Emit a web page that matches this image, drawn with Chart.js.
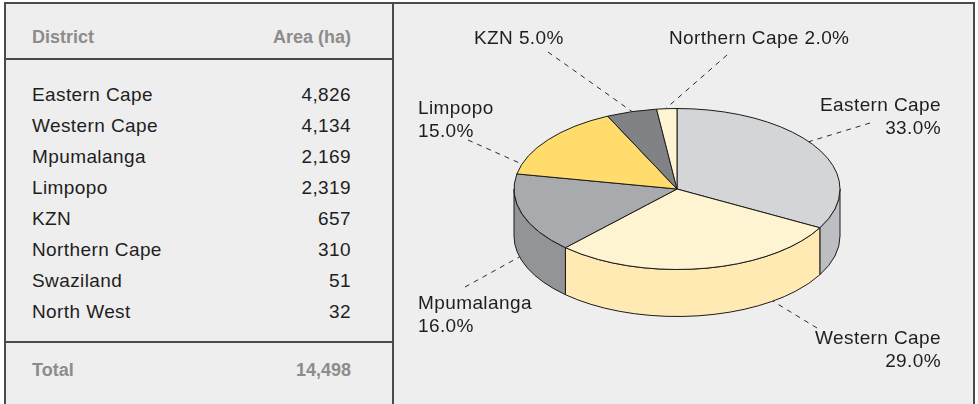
<!DOCTYPE html>
<html>
<head>
<meta charset="utf-8">
<script src="https://cdn.jsdelivr.net/npm/chart.js@4.4.1/dist/chart.umd.min.js"></script>
<style>
  html, body { margin: 0; padding: 0; background: #ffffff; }
  body { width: 978px; height: 404px; position: relative; overflow: hidden;
         font-family: "Liberation Sans", Arial, sans-serif; color: #1e1e1e; }
  #box { position: absolute; left: 4px; top: 2px; width: 967px; height: 410px;
         background: #eeeeee; border: 2px solid #4a4a4a; border-bottom: none; }
  .vline { position: absolute; left: 386px; top: 0; width: 2px; height: 410px; background: #4a4a4a; }
  .hline { position: absolute; left: 0; width: 386px; height: 2px; background: #4a4a4a; }
  .cell { position: absolute; height: 31px; line-height: 31px; font-size: 19px; white-space: nowrap; letter-spacing: 0.4px; }
  .name { left: 26px; }
  .val { right: 622px; text-align: right; }
  .head { font-weight: bold; font-size: 18px; color: #8c8c8c; letter-spacing: 0; }
  #chartWrap { position: absolute; left: 388px; top: 0; width: 579px; height: 402px; }
</style>
</head>
<body>
<div id="box">
  <div class="hline" style="top:54px"></div>
  <div class="hline" style="top:337px"></div>
  <div class="vline"></div>
  <div id="table"></div>
  <div id="chartWrap"><canvas id="pie"></canvas></div>
</div>
<script>
// table data
const districts = ['Eastern Cape', 'Western Cape', 'Mpumalanga', 'Limpopo', 'KZN', 'Northern Cape', 'Swaziland', 'North West'];
const areas = [4826, 4134, 2169, 2319, 657, 310, 51, 32];
const totalArea = 14498;

// pie data (percent as printed on the chart)
const pieLabels = ['Eastern Cape', 'Western Cape', 'Mpumalanga', 'Limpopo', 'KZN', 'Northern Cape'];
const piePercents = [33.0, 29.0, 16.0, 15.0, 5.0, 2.0];
const topColors = ['#d4d5d7', '#fff4d2', '#a9aaae', '#ffdc6b', '#808285', '#fff4d2'];
const sideColors = ['#bdbec1', '#ffeab4', '#939498', '#f2c94c', '#6c6e71', '#ffeab4'];

const fmt = n => n.toLocaleString('en-US');

function cell(cls, text, top) {
  const d = document.createElement('div');
  d.className = 'cell ' + cls;
  d.style.top = top + 'px';
  d.textContent = text;
  document.getElementById('table').appendChild(d);
}

cell('name head', 'District', 18);
cell('val head', 'Area (ha)', 18);
districts.forEach((d, i) => {
  cell('name', d, 75 + i * 31);
  cell('val', fmt(areas[i]), 75 + i * 31);
});
cell('name head', 'Total', 351);
cell('val head', fmt(totalArea), 351);

// label layout: text anchor, start of leader, and angle where it meets the pie
const labelLayout = [
  { x: 547, y: 102, align: 'right', lines: 2, lx: 476, ly: 119, edge: -36 },
  { x: 547, y: 335, align: 'right', lines: 2, lx: 423, ly: 324, edge: 54 },
  { x: 24, y: 300, align: 'left', lines: 2, lx: 71, ly: 283, edge: 165 },
  { x: 24, y: 105, align: 'left', lines: 2, lx: 74, ly: 136, edge: 198 },
  { x: 80, y: 35, align: 'left', lines: 1, lx: 154, ly: 48, edge: 254 },
  { x: 275, y: 35, align: 'left', lines: 1, lx: 333, ly: 51, edge: 266 }
];

const tilt = 80 / 162;
const depth = 47;

const pie3d = {
  id: 'pie3d',
  beforeDatasetsDraw(chart) {
    const ctx = chart.ctx;
    const arcs = chart.getDatasetMeta(0).data;
    const cx = arcs[0].x, cy = arcs[0].y;
    const rx = arcs[0].outerRadius, ry = rx * tilt;
    ctx.save();
    ctx.lineWidth = 1;
    ctx.strokeStyle = '#1a1a1a';
    ctx.lineJoin = 'round';

    // side walls, front half only
    arcs.forEach((arc, i) => {
      const a = Math.max(arc.startAngle, 0);
      const b = Math.min(arc.endAngle, Math.PI);
      if (a >= b) return;
      ctx.beginPath();
      ctx.ellipse(cx, cy, rx, ry, 0, a, b);
      ctx.lineTo(cx + rx * Math.cos(b), cy + ry * Math.sin(b) + depth);
      ctx.ellipse(cx, cy + depth, rx, ry, 0, b, a, true);
      ctx.closePath();
      ctx.fillStyle = sideColors[i];
      ctx.fill();
      ctx.stroke();
    });

    // top face
    arcs.forEach((arc, i) => {
      ctx.beginPath();
      ctx.moveTo(cx, cy);
      ctx.ellipse(cx, cy, rx, ry, 0, arc.startAngle, arc.endAngle);
      ctx.closePath();
      ctx.fillStyle = topColors[i];
      ctx.fill();
      ctx.stroke();
    });

    // labels + dashed leaders
    ctx.font = '19px "Liberation Sans", Arial, sans-serif';
    ctx.letterSpacing = '0.4px';
    ctx.fillStyle = '#1e1e1e';
    ctx.textBaseline = 'middle';
    labelLayout.forEach((l, i) => {
      const pct = piePercents[i].toFixed(1) + '%';
      ctx.textAlign = l.align;
      if (l.lines === 2) {
        ctx.fillText(pieLabels[i], l.x, l.y);
        ctx.fillText(pct, l.x, l.y + 23);
      } else {
        ctx.fillText(pieLabels[i] + ' ' + pct, l.x, l.y);
      }
      const t = l.edge * Math.PI / 180;
      const ex = cx + rx * Math.cos(t);
      const ey = cy + ry * Math.sin(t) + (Math.sin(t) > 0 ? depth : 0);
      ctx.beginPath();
      ctx.setLineDash([5, 5]);
      ctx.strokeStyle = '#2a2a2a';
      ctx.moveTo(l.lx, l.ly);
      ctx.lineTo(ex, ey);
      ctx.stroke();
      ctx.setLineDash([]);
    });
    ctx.restore();
    return false;
  }
};

new Chart(document.getElementById('pie'), {
  type: 'pie',
  data: {
    labels: pieLabels,
    datasets: [{ data: piePercents, backgroundColor: topColors, borderWidth: 0 }]
  },
  options: {
    responsive: true,
    maintainAspectRatio: false,
    animation: false,
    layout: { padding: { left: 0, right: 13, top: 22, bottom: 54 } },
    plugins: { legend: { display: false }, tooltip: { enabled: false } }
  },
  plugins: [pie3d]
});
</script>
</body>
</html>
